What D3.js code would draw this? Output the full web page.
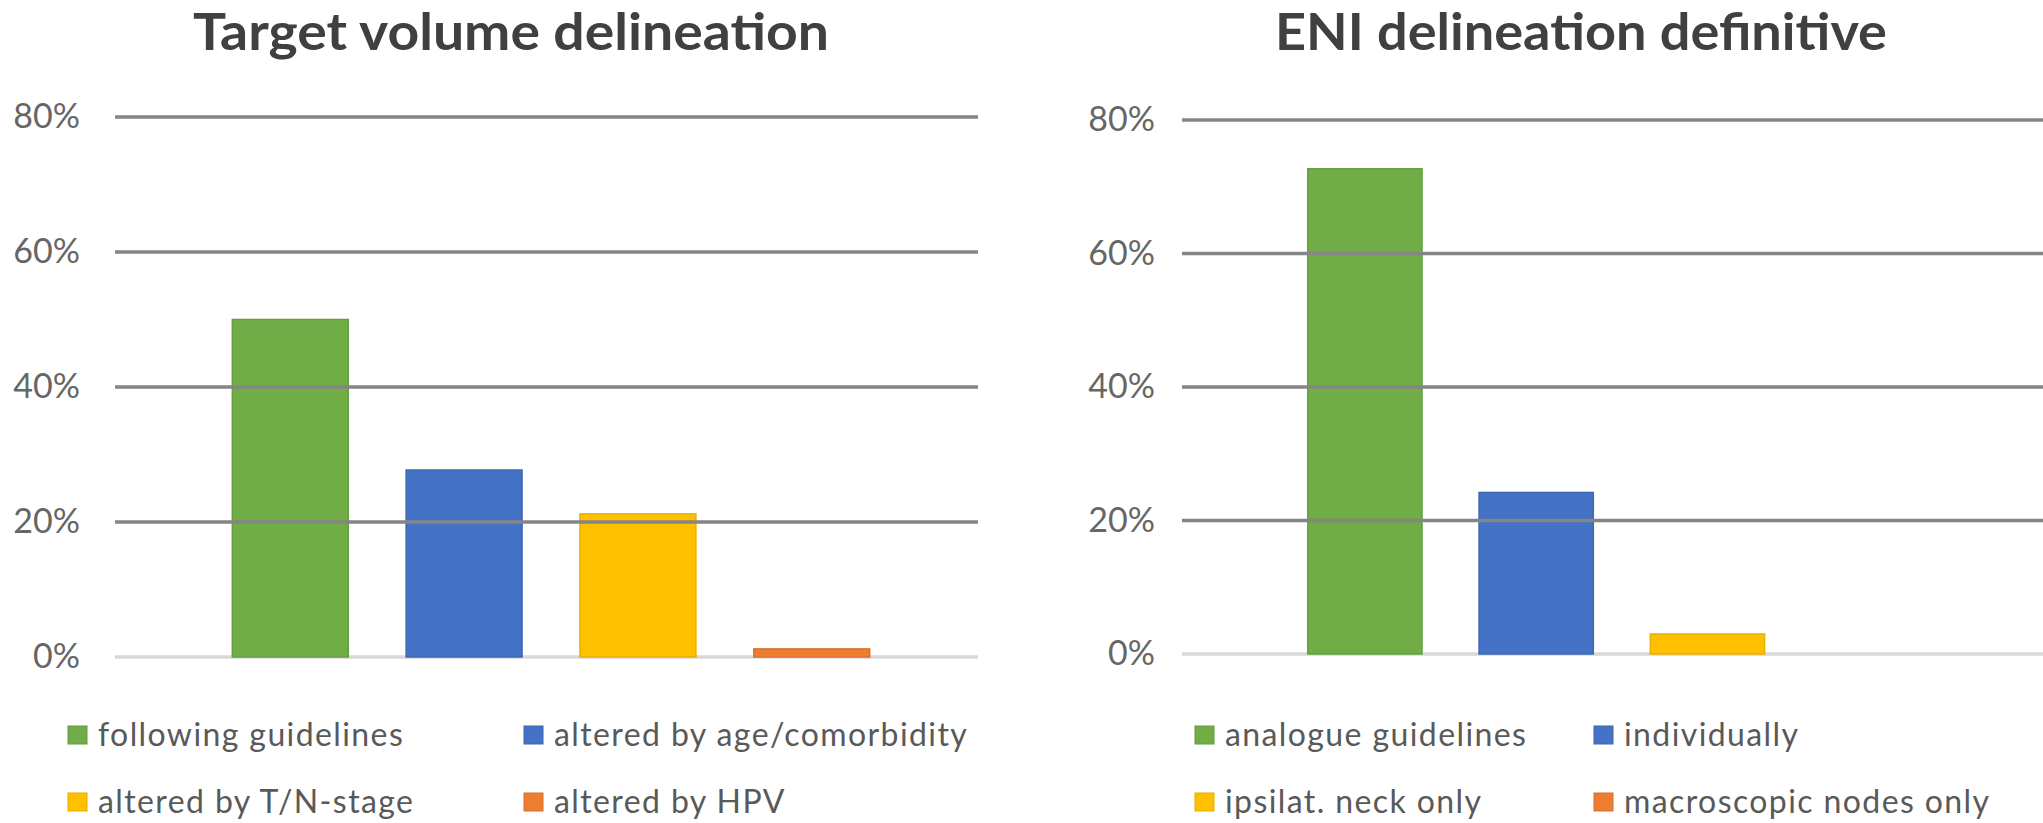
<!DOCTYPE html>
<html>
<head>
<meta charset="utf-8">
<script src="https://cdn.jsdelivr.net/npm/d3@7"></script>
<style>
  html, body { margin: 0; padding: 0; background: #ffffff; }
  svg { display: block; }
  .tick-label text { font-family: Lato, "Open Sans", sans-serif; font-size: 34px; fill: #666666; }
  .legend text { font-family: Lato, "Open Sans", sans-serif; font-size: 32px; letter-spacing: 1.4px; fill: #595959; }
  .title { font-family: Lato, "Open Sans", sans-serif; font-weight: 700; font-size: 52px; fill: #404040; }
</style>
</head>
<body>
<svg id="chart" width="2043" height="823"></svg>
<script>
// Survey results, share of respondents (%)
const targetTitle = "Target volume delineation";
const targetSeries = ["following guidelines", "altered by age/comorbidity", "altered by T/N-stage", "altered by HPV"];
const targetValues = [50.0, 27.7, 21.2, 1.2];

const eniTitle = "ENI delineation definitive";
const eniSeries = ["analogue guidelines", "individually", "ipsilat. neck only", "macroscopic nodes only"];
const eniValues = [72.7, 24.2, 3.0, 0.0];

const seriesColors = ["#70AD47", "#4472C4", "#FFC000", "#ED7D31"];
const yTicks = [0, 20, 40, 60, 80];
const yMax = 80;

const svg = d3.select("#chart");

// Layout of each panel (pixels)
const panels = [
  {
    title: targetTitle, series: targetSeries, values: targetValues,
    titleX: 511, titleWidth: 636,
    plotLeft: 115, plotRight: 978, top: 117, bottom: 657,
    labelRight: 80, padOuter: 0.649, align: 0.52,
    legendCols: [68, 524], legendRows: [735, 802]
  },
  {
    title: eniTitle, series: eniSeries, values: eniValues,
    titleX: 1581, titleWidth: 612,
    plotLeft: 1182, plotRight: 2043, top: 120, bottom: 654,
    labelRight: 1155, padOuter: 0.68, align: 0.54,
    legendCols: [1195, 1594], legendRows: [735, 802]
  }
];

function darker(c, k) { return d3.color(c).darker(k).formatHex(); }

panels.forEach(p => {
  const g = svg.append("g");

  const y = d3.scaleLinear().domain([0, yMax]).range([p.bottom, p.top]);
  const x = d3.scaleBand()
    .domain(p.series)
    .range([p.plotLeft, p.plotRight])
    .paddingInner(0.333)
    .paddingOuter(p.padOuter)
    .align(p.align);

  // Title
  g.append("text")
    .attr("class", "title")
    .attr("x", p.titleX)
    .attr("y", 50)
    .attr("text-anchor", "middle")
    .attr("textLength", p.titleWidth)
    .attr("lengthAdjust", "spacingAndGlyphs")
    .text(p.title);

  // Zero baseline
  g.append("line")
    .attr("x1", p.plotLeft).attr("x2", p.plotRight)
    .attr("y1", y(0)).attr("y2", y(0))
    .attr("stroke", "#d9d9d9").attr("stroke-width", 3.5);

  // Bars
  const data = p.series.map((s, i) => ({ name: s, value: p.values[i], color: seriesColors[i] }));
  g.selectAll("rect.bar")
    .data(data.filter(d => d.value > 0))
    .join("rect")
    .attr("class", "bar")
    .attr("x", d => x(d.name))
    .attr("width", x.bandwidth())
    .attr("y", d => y(d.value))
    .attr("height", d => y(0) - y(d.value))
    .attr("fill", d => d.color)
    .attr("stroke", d => darker(d.color, 0.25))
    .attr("stroke-width", 1.5);

  // Horizontal gridlines, drawn over the bars
  g.selectAll("line.grid")
    .data(yTicks.filter(t => t > 0))
    .join("line")
    .attr("class", "grid")
    .attr("x1", p.plotLeft).attr("x2", p.plotRight)
    .attr("y1", d => y(d)).attr("y2", d => y(d))
    .attr("stroke", "#858585").attr("stroke-width", 3.5);

  // Y axis labels
  const axis = d3.axisLeft(y)
    .tickValues(yTicks)
    .tickSize(0)
    .tickPadding(0)
    .tickFormat(d => d + "%");
  const ax = g.append("g")
    .attr("class", "tick-label")
    .attr("transform", `translate(${p.labelRight},0)`)
    .call(axis);
  ax.select(".domain").remove();

  // Legend: two columns, two rows
  const leg = g.append("g").attr("class", "legend");
  data.forEach((d, i) => {
    const lx = p.legendCols[i % 2];
    const ly = p.legendRows[Math.floor(i / 2)];
    leg.append("rect")
      .attr("x", lx).attr("y", ly - 9)
      .attr("width", 19).attr("height", 18)
      .attr("fill", d.color)
      .attr("stroke", darker(d.color, 0.3)).attr("stroke-width", 1);
    leg.append("text")
      .attr("x", lx + 30)
      .attr("y", ly)
      .attr("dy", "0.35em")
      .text(d.name);
  });
});
</script>
</body>
</html>
